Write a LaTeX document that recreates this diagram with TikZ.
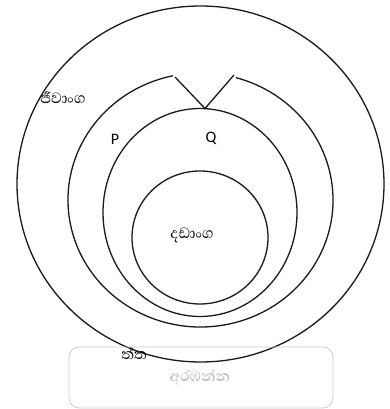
\documentclass[tikz,border=0pt]{standalone}
\usepackage{fontspec}
\setmainfont{Carlito}
\newfontfamily\sinfont[Script=Sinhala]{Abhaya Libre}
\usepackage{tikz}
\usetikzlibrary{positioning,calc}

\tikzset{
    ring/.style={line width=1.3pt, black!90},
    sinlabel/.style={font=\sinfont\fontsize{19}{21}\selectfont},
    letter/.style={font=\fontsize{16}{18}\selectfont},
}

\begin{document}
\begin{tikzpicture}[x=1pt, y=1pt]
\useasboundingbox (0, 0) rectangle (390, 409);

% Centres of the rings
\coordinate (cout) at (200.5, 225);
\coordinate (cp) at (200.5, 209);
\coordinate (cq) at (200, 196.5);
\coordinate (cin) at (200, 171.5);

% Outer ring
\draw[ring] (cout) ellipse [x radius=183.5, y radius=178];

% P ring, open at the top
\draw[ring] ([shift={(102:132.5 and 127)}]cp) arc[start angle=102, end angle=434.5, x radius=132.5, y radius=127];

% Q ring and inner ring
\draw[ring] (cq) ellipse [x radius=97, y radius=104];
\draw[ring] (cin) ellipse [x radius=68, y radius=66.5];

% Notch down to the Q ring
\coordinate (vleft) at (175, 332);
\coordinate (vtip) at (205, 300.5);
\coordinate (vright) at (234, 334);
\draw[ring] (vleft) -- (vtip) -- (vright);

% Labels
\node[sinlabel] (outer) at (63, 311) {ජීවාංග};
\node[letter] (p) at (115, 270) {P};
\node[letter] (q) at (211, 270.5) {Q};
\node[sinlabel] (inner) at (192, 174) {දඩාංග};
\begin{scope}
    \clip (100, 44) rectangle (170, 70);
    \node[sinlabel, anchor=north, inner sep=0pt] (bottom) at (134, 62) {ත්ත};
\end{scope}

% Button
\draw[gray!40, line width=0.8pt, rounded corners=10pt] (69, 1) rectangle (333, 62);
\node[sinlabel, text=gray!50, font=\sinfont\bfseries\fontsize{19}{21}\selectfont] (start) at (200, 32) {අරඹන්න};

\end{tikzpicture}
\end{document}
